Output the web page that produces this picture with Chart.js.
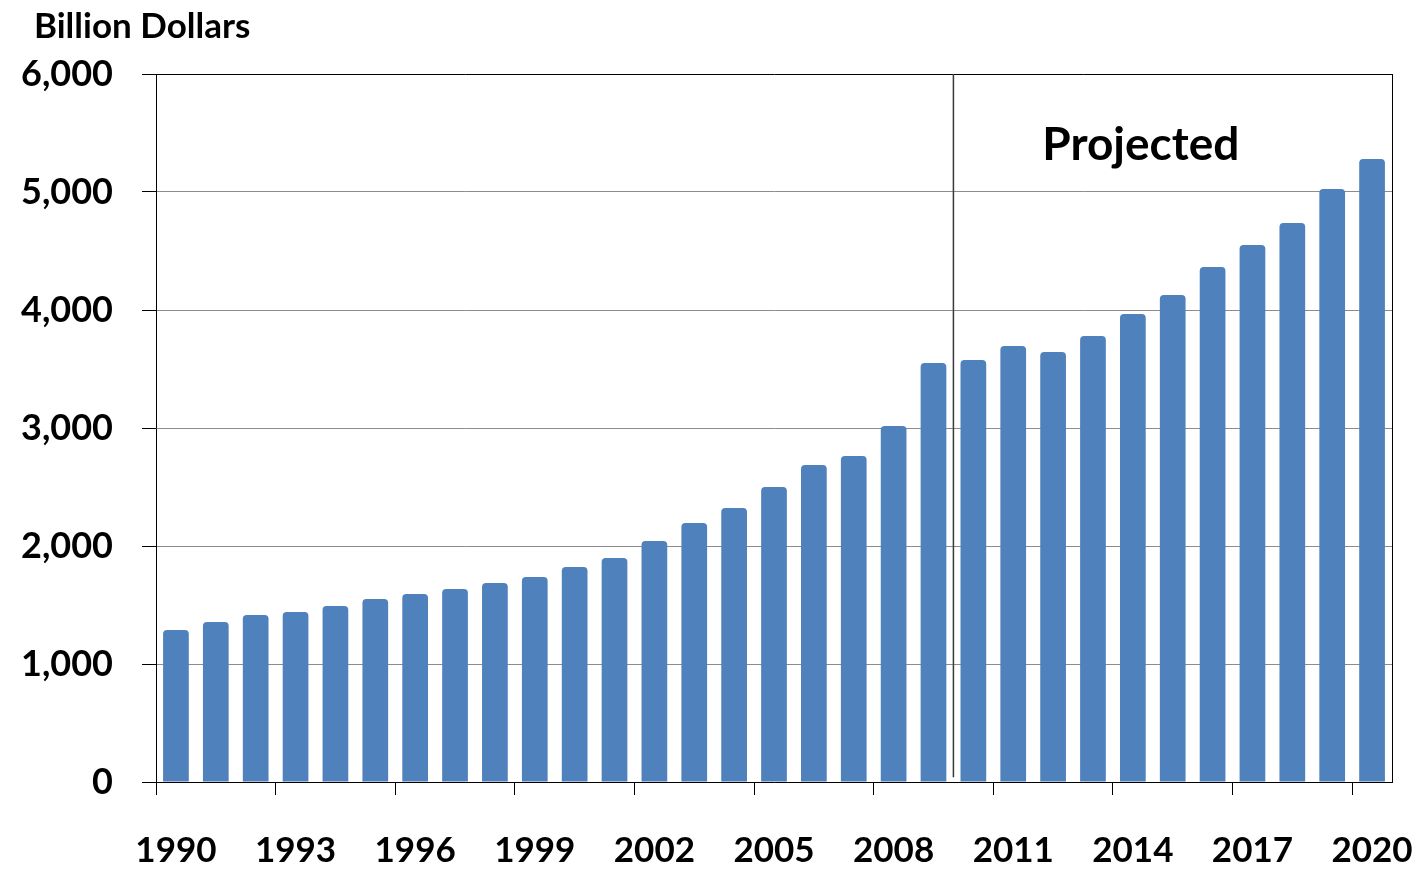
<!DOCTYPE html>
<html>
<head>
<meta charset="utf-8">
<script src="https://cdn.jsdelivr.net/npm/chart.js@4.4.1/dist/chart.umd.min.js"></script>
<style>
  html, body { margin: 0; padding: 0; background: #fff; }
  #wrap { width: 1416px; height: 873px; position: relative; }
</style>
</head>
<body>
<div id="wrap"><canvas id="c" width="1416" height="873"></canvas></div>
<script>
const years = ['1990','1991','1992','1993','1994','1995','1996','1997','1998','1999','2000',
  '2001','2002','2003','2004','2005','2006','2007','2008','2009','2010',
  '2011','2012','2013','2014','2015','2016','2017','2018','2019','2020'];
const spending = [1288,1356,1415,1441,1492,1551,1593,1636,1686,1737,1822,
  1898,2042,2195,2322,2500,2686,2763,3017,3551,3576,
  3695,3644,3780,3966,4127,4364,4551,4737,5025,5280];
const yTicks = [0,1000,2000,3000,4000,5000,6000];
const yAxisTitle = 'Billion Dollars';
const projectedLabel = 'Projected';
const projectedStart = '2010';

const FONT = 'Lato, "Open Sans", sans-serif';

const overlay = {
  id: 'overlay',
  afterDraw(chart) {
    const ctx = chart.ctx;
    const ca = chart.chartArea;
    const xs = chart.scales.x;
    const ys = chart.scales.y;
    ctx.save();
    // right border
    ctx.strokeStyle = '#000';
    ctx.lineWidth = 1;
    ctx.beginPath();
    ctx.moveTo(Math.round(ca.right) + 0.5, ca.top);
    ctx.lineTo(Math.round(ca.right) + 0.5, ca.bottom);
    ctx.stroke();
    // projected divider
    const i = years.indexOf(projectedStart);
    const xLine = (xs.getPixelForValue(i - 1) + xs.getPixelForValue(i)) / 2;
    ctx.strokeStyle = '#3a3a3a';
    ctx.lineWidth = 1.5;
    ctx.beginPath();
    ctx.moveTo(xLine, ca.top);
    ctx.lineTo(xLine, ys.getPixelForValue(40));
    ctx.stroke();
    // Projected label
    ctx.fillStyle = '#000';
    ctx.font = 'bold 46px ' + FONT;
    ctx.textAlign = 'center';
    ctx.textBaseline = 'middle';
    ctx.fillText(projectedLabel, xs.getPixelForValue(24.2), ys.getPixelForValue(5400));
    // axis title
    ctx.font = 'bold 35px ' + FONT;
    ctx.textAlign = 'left';
    ctx.fillText(yAxisTitle, 34, 27);
    ctx.restore();
  }
};

new Chart(document.getElementById('c'), {
  type: 'bar',
  data: {
    labels: years,
    datasets: [{
      data: spending,
      backgroundColor: '#4F81BD',
      borderWidth: 0,
      borderRadius: { topLeft: 4, topRight: 4, bottomLeft: 0, bottomRight: 0 },
      borderSkipped: 'start',
      categoryPercentage: 1.0,
      barPercentage: 0.645
    }]
  },
  options: {
    responsive: false,
    animation: false,
    layout: { padding: { top: 74, right: 24, left: 0, bottom: 0 } },
    plugins: { legend: { display: false }, tooltip: { enabled: false }, title: { display: false } },
    scales: {
      x: {
        offset: true,
        grid: {
          offset: true,
          drawOnChartArea: false,
          drawTicks: true,
          tickLength: 13,
          tickColor: (c) => (c.index % 3 === 0 ? '#000' : 'rgba(0,0,0,0)'),
          tickWidth: 1
        },
        border: { display: true, color: '#000', width: 1 },
        ticks: {
          autoSkip: false,
          maxRotation: 0,
          padding: 35,
          color: '#000',
          font: { family: FONT, size: 35, weight: 'bold' },
          callback: (v, idx) => (idx % 3 === 0 ? years[idx] : '')
        },
        afterFit: (s) => { s.height = 91; s.paddingLeft = 0; s.paddingRight = 0; }
      },
      y: {
        min: 0,
        max: 6000,
        afterBuildTicks: (s) => { s.ticks = yTicks.map(v => ({ value: v })); },
        grid: {
          color: (c) => (c.tick && c.tick.value === 6000 ? '#000' : '#8c8c8c'),
          lineWidth: 1,
          tickLength: 14,
          tickColor: '#000'
        },
        border: { display: true, color: '#000', width: 1 },
        ticks: {
          padding: 29,
          color: '#000',
          font: { family: FONT, size: 36, weight: 'bold' },
          callback: (v) => v.toLocaleString('en-US')
        },
        afterFit: (s) => { s.width = 156; s.paddingTop = 0; s.paddingBottom = 0; }
      }
    }
  },
  plugins: [overlay]
});
</script>
</body>
</html>
